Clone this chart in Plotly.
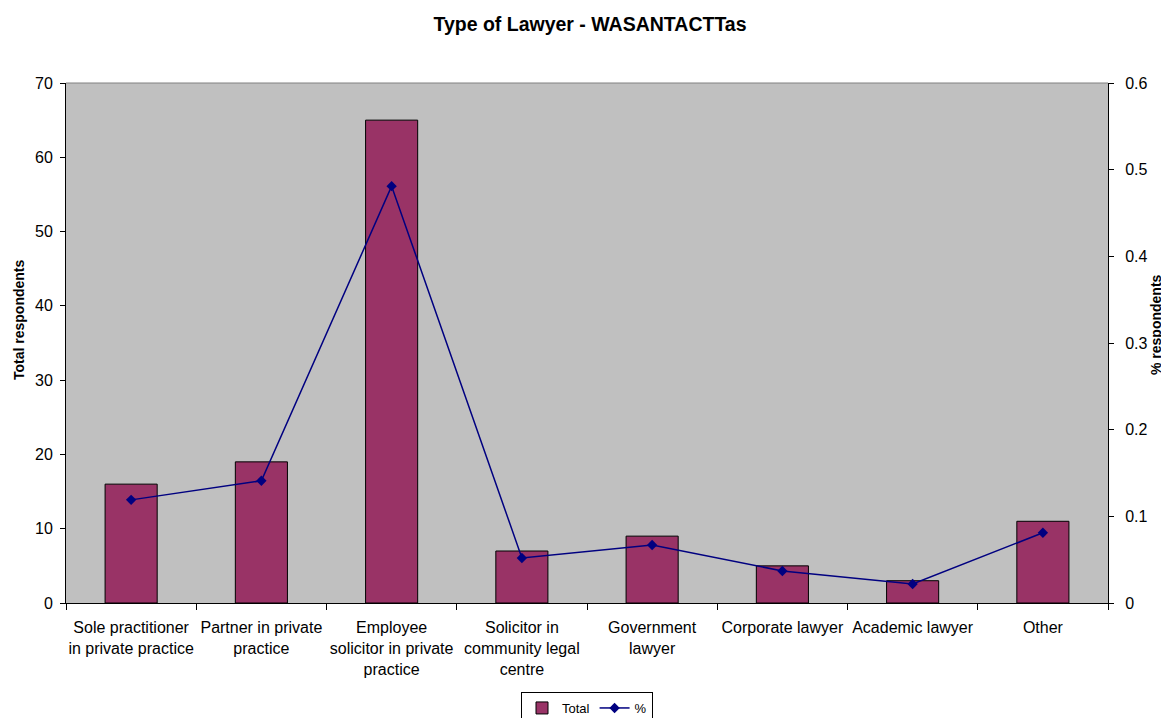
import plotly.graph_objects as go

# Data
categories = [
    "Sole practitioner<br>in private practice",
    "Partner in private<br>practice",
    "Employee<br>solicitor in private<br>practice",
    "Solicitor in<br>community legal<br>centre",
    "Government<br>lawyer",
    "Corporate lawyer",
    "Academic lawyer",
    "Other",
]
totals = [16, 19, 65, 7, 9, 5, 3, 11]
percents = [0.119, 0.141, 0.481, 0.052, 0.067, 0.037, 0.022, 0.081]

font = "Liberation Sans, Arial, sans-serif"

fig = go.Figure()

fig.add_trace(go.Bar(
    x=categories, y=totals, name="Total",
    marker=dict(color="#993366", line=dict(color="black", width=1)),
))

fig.add_trace(go.Scatter(
    x=categories, y=percents, name="%", yaxis="y2",
    mode="lines+markers",
    line=dict(color="#000080", width=1.5),
    marker=dict(symbol="diamond", size=8, color="#000080"),
))

# the page body adds an 8px offset, so margins are shifted to compensate
fig.update_layout(
    width=1169, height=718,
    margin=dict(l=58, r=69, t=75, b=123),
    paper_bgcolor="white",
    plot_bgcolor="#C0C0C0",
    font=dict(family=font, size=16, color="black"),
    title=dict(text="<b>Type of Lawyer - WASANTACTTas</b>", x=(590 - 8) / 1169, xanchor="center",
               y=0.9776, yanchor="middle", font=dict(size=19.5)),
    bargap=0.6,
    showlegend=True,
    legend=dict(orientation="h", x=0.5, xanchor="center",
                yref="container", y=1 - 700 / 718, yanchor="middle",
                bordercolor="black", borderwidth=1, bgcolor="white",
                font=dict(size=13), tracegroupgap=0),
    xaxis=dict(
        showline=True, linecolor="black", linewidth=1,
        ticks="outside", tickson="boundaries", ticklen=6, tickcolor="black",
        showgrid=False, tickangle=0, automargin=False, ticklabelstandoff=10,
    ),
    yaxis=dict(
        range=[0, 70], dtick=10,
        showline=True, linecolor="black", linewidth=1,
        ticks="outside", ticklen=5, tickcolor="black",
        showgrid=False, zeroline=False, automargin=False, ticklabelstandoff=4,
    ),
    yaxis2=dict(
        overlaying="y", side="right",
        range=[0, 0.6], dtick=0.1,
        showline=True, linecolor="black", linewidth=1,
        ticks="outside", ticklen=5, tickcolor="black",
        showgrid=False, zeroline=False, automargin=False, ticklabelstandoff=8,
    ),
)

# axis titles placed as annotations
fig.add_annotation(text="<b>Total respondents</b>", xref="paper", yref="paper",
                   x=-47 / 1042, y=(603 - 320) / 520, textangle=-90, showarrow=False,
                   font=dict(size=14), xanchor="center", yanchor="middle")
fig.add_annotation(text="<b>% respondents</b>", xref="paper", yref="paper",
                   x=1 + 48 / 1042, y=(603 - 325) / 520, textangle=-90, showarrow=False,
                   font=dict(size=14), xanchor="center", yanchor="middle")

# grey top border of plot area
fig.add_shape(type="line", xref="paper", yref="paper", x0=0, x1=1, y0=1, y1=1,
              line=dict(color="#808080", width=1))

fig.write_html("out.html")
